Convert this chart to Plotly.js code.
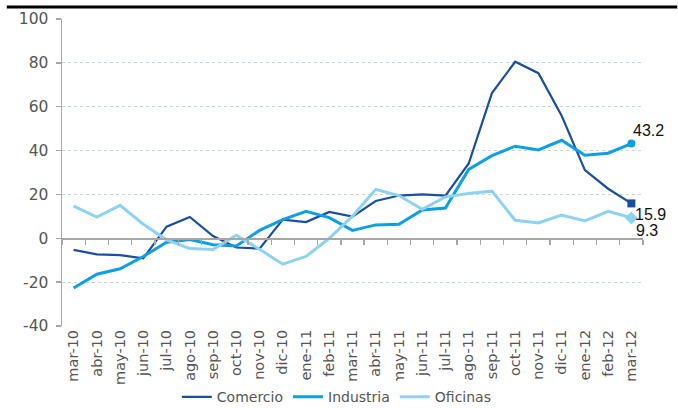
<!DOCTYPE html>
<html>
<head>
<meta charset="utf-8">
<script src="https://cdn.plot.ly/plotly-3.0.1.min.js"></script>
<style>html,body{margin:0;padding:0;background:#fff;}#chart{width:678px;height:408px;}</style>
</head>
<body>
<div id="chart"></div>
<script>
const categories = ["mar-10","abr-10","may-10","jun-10","jul-10","ago-10","sep-10","oct-10","nov-10","dic-10",
  "ene-11","feb-11","mar-11","abr-11","may-11","jun-11","jul-11","ago-11","sep-11","oct-11","nov-11","dic-11",
  "ene-12","feb-12","mar-12"];
const comercio = [-5.3,-7.3,-7.7,-9.1,5.3,9.7,1.0,-4.2,-4.7,8.5,7.4,12.0,9.9,17.0,19.5,20.0,19.5,34.1,66.2,80.5,75.3,55.9,31.1,22.6,15.9];
const industria = [-22.7,-16.4,-13.9,-8.3,-1.8,-0.6,-2.9,-3.5,3.6,8.5,12.3,9.4,3.6,6.1,6.4,12.9,13.8,31.4,37.7,42.0,40.3,44.7,37.9,38.8,43.2];
const oficinas = [14.7,9.7,15.0,6.4,-0.7,-4.7,-5.1,1.4,-5.0,-11.8,-8.3,0.0,10.1,22.3,19.5,13.2,18.9,20.4,21.5,8.2,7.0,10.6,7.9,12.3,9.3];
const seriesNames = ["Comercio","Industria","Oficinas"];
const yTickValues = [-40,-20,0,20,40,60,80,100];
const yTickLabels = ["-40","-20","0","20","40","60","80","100"];

const colors = ["#1a4f9f","#0d9fe3","#8ed2f3"];
const widths = [2.2,3,3];
const symbols = ["square","circle","diamond"];
const allSeries = [comercio, industria, oficinas];
const last = categories.length - 1;

const traces = [];
allSeries.forEach((s,k)=>{
  traces.push({type:"scatter",mode:"lines",name:seriesNames[k],x:categories,y:s,
    line:{color:colors[k],width:widths[k]},hoverinfo:"skip"});
});
allSeries.forEach((s,k)=>{
  traces.push({type:"scatter",mode:"markers",showlegend:false,x:[categories[last]],y:[s[last]],
    marker:{symbol:symbols[k],color:colors[k],size:k===2?10:8},hoverinfo:"skip"});
});

// invisible trace to drive second x axis (zero-line ticks)
traces.push({type:"scatter",mode:"none",x:categories,y:comercio,xaxis:"x2",showlegend:false,hoverinfo:"skip"});

const shifts = [[19,-11],[17,13],[16,-13]];
const annotations = allSeries.map((s,k)=>({
  x:categories[last], y:s[last], xref:"x", yref:"y", text:s[last].toFixed(1), showarrow:false,
  xshift:shifts[k][0], yshift:shifts[k][1],
  font:{family:"Liberation Sans, Arial, sans-serif",size:16,color:"#111"}
}));

const layout = {
  width:678, height:408,
  margin:{l:62,r:35,t:19,b:82,autoexpand:false},
  paper_bgcolor:"#fff", plot_bgcolor:"#fff",
  font:{family:"DejaVu Sans, sans-serif",size:13,color:"#444"},
  showlegend:true,
  legend:{orientation:"h",x:0.473,xanchor:"center",y:-0.232,yanchor:"middle",
    font:{family:"DejaVu Sans, sans-serif",size:14,color:"#555"},itemwidth:30,tracegroupgap:0},
  xaxis:{type:"category",range:[-0.5,24.5],showgrid:false,zeroline:false,showline:false,ticks:"",automargin:false,
    tickangle:-90,tickfont:{family:"DejaVu Sans, sans-serif",size:14.5,color:"#555"},fixedrange:true},
  xaxis2:{type:"category",overlaying:"x",anchor:"free",position:40/140,range:[-0.5,24.5],automargin:false,
    showgrid:false,zeroline:false,showline:true,linecolor:"#a6a6a6",linewidth:1.5,
    ticks:"outside",tickson:"boundaries",ticklen:5,tickcolor:"#a6a6a6",tickwidth:1.3,showticklabels:false,side:"bottom"},
  yaxis:{range:[-40,100],tickmode:"array",tickvals:yTickValues,ticktext:yTickLabels,
    showgrid:true,griddash:"dot",gridcolor:"#c8d4e6",gridwidth:1,automargin:false,
    zeroline:false,showline:true,linecolor:"#a6a6a6",linewidth:1.5,ticks:"outside",ticklen:5,
    tickcolor:"#a6a6a6",tickwidth:1.3,ticklabelstandoff:4,
    tickfont:{family:"DejaVu Sans, sans-serif",size:15.5,color:"#555"},fixedrange:true},
  shapes:[{type:"line",xref:"paper",yref:"paper",x0:-0.095,x1:1.059,y0:1.039,y1:1.039,
    line:{color:"#000",width:3}}],
  annotations:annotations
};
Plotly.newPlot("chart",traces,layout,{staticPlot:true,displayModeBar:false});
</script>
</body>
</html>
